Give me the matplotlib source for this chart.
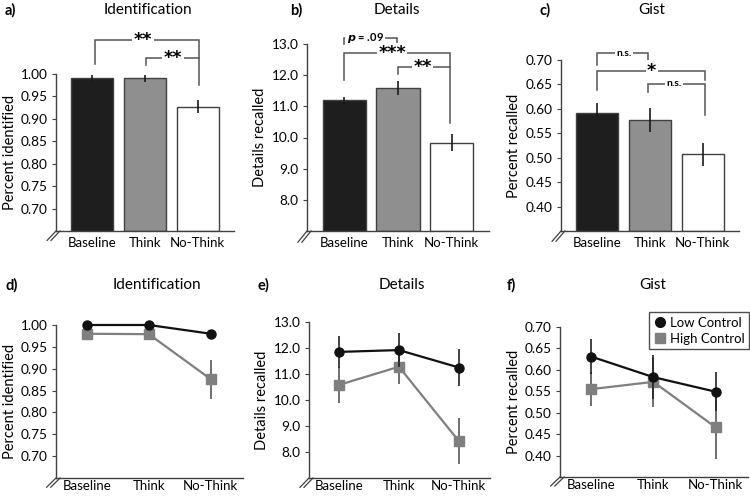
import matplotlib
matplotlib.use("Agg")
import matplotlib.pyplot as plt
from matplotlib.lines import Line2D

plt.rcParams['font.family'] = ['Lato', 'DejaVu Sans']

conditions = ["Baseline", "Think", "No-Think"]

# Top row: bar values and SEs
ident_mean = [0.990, 0.990, 0.927]
ident_err = [0.008, 0.007, 0.015]
details_mean = [11.20, 11.59, 9.83]
details_err = [0.11, 0.22, 0.27]
gist_mean = [0.592, 0.577, 0.507]
gist_err = [0.019, 0.024, 0.024]

# Bottom row: low vs high control
ident_low = [1.000, 1.000, 0.980]
ident_low_err = [0.003, 0.003, 0.008]
ident_high = [0.980, 0.979, 0.876]
ident_high_err = [0.008, 0.008, 0.045]
details_low = [11.85, 11.92, 11.25]
details_low_err = [0.62, 0.66, 0.70]
details_high = [10.58, 11.28, 8.42]
details_high_err = [0.69, 0.68, 0.89]
gist_low = [0.631, 0.583, 0.549]
gist_low_err = [0.040, 0.052, 0.045]
gist_high = [0.555, 0.572, 0.466]
gist_high_err = [0.040, 0.058, 0.075]

bar_colors = ["#1e1e1e", "#8f8f8f", "#ffffff"]
W, H = 750, 496

fig = plt.figure(figsize=(7.5, 4.96), dpi=100)


def add_axes(l, r, b, t):
    return fig.add_axes([l / W, 1 - b / H, (r - l) / W, (b - t) / H])


def style(ax, yticks, fmt, ylabel, xlim, xpad=4):
    ax.spines['top'].set_visible(False)
    ax.spines['right'].set_visible(False)
    for s in ('left', 'bottom'):
        ax.spines[s].set_color('#404040')
        ax.spines[s].set_linewidth(1.0)
    ax.set_yticks(yticks)
    ax.set_yticklabels([fmt.format(v) for v in yticks], fontsize=9.8)
    ax.set_xlim(*xlim)
    ax.set_xticks(range(3))
    ax.set_xticklabels(conditions, fontsize=9.5)
    ax.tick_params(axis='x', length=0, pad=xpad)
    ax.tick_params(axis='y', length=3, width=0.8, color='#404040', pad=3)
    ax.set_ylabel(ylabel, fontsize=10.5, labelpad=3)
    # axis break marker
    for dx in (0.0, 0.022):
        ax.plot([-0.05 + dx, 0.0 + dx], [-0.06, 0.0], transform=ax.transAxes,
                color='#404040', lw=0.9, clip_on=False)


def bracket(ax, x1, x2, y, yl1, yl2, text, tx, color='#555555', italic_p=False):
    ax.plot([x1, x1, x2, x2], [yl1, y, y, yl2], color=color, lw=1.1,
            clip_on=False, solid_joinstyle='miter')
    box = dict(facecolor='white', edgecolor='none', pad=1.0)
    if italic_p:
        ax.text(tx, y, r"$\boldsymbol{p}$ = .09", ha='center', va='center', fontsize=8,
                fontweight='bold', bbox=box, clip_on=False)
    elif '*' in text:
        ax.text(tx, y, text, ha='center', va='center', fontsize=12.5, fontweight='bold',
                family='DejaVu Sans', bbox=box, clip_on=False)
    else:
        ax.text(tx, y, text, ha='center', va='center', fontsize=7.5, fontweight='bold',
                bbox=box, clip_on=False)


def bars(ax, means, errs, ylim):
    ax.bar(range(3), [m - ylim[0] for m in means], bottom=ylim[0], width=0.8,
           color=bar_colors, edgecolor='#404040', linewidth=1.0, zorder=2)
    ax.errorbar(range(3), means, yerr=errs, fmt='none', ecolor='#1a1a1a',
                elinewidth=1.2, capsize=0, zorder=3)
    ax.set_ylim(*ylim)


bar_xlim = (-0.69, 2.69)
line_xlim = (-0.5, 2.52)

# a) Identification
ax = add_axes(56, 234, 231, 74)
bars(ax, ident_mean, ident_err, (0.65, 1.0))
style(ax, [0.70, 0.75, 0.80, 0.85, 0.90, 0.95, 1.00], "{:.2f}", "Percent identified", bar_xlim)
bracket(ax, 0.05, 2.02, 1.076, 1.022, 0.976, "**", 0.96)
bracket(ax, 1.02, 2.02, 1.036, 1.020, 1.036, "**", 1.53)

# b) Details
ax = add_axes(307, 489, 231, 44)
bars(ax, details_mean, details_err, (7.0, 13.0))
style(ax, [8.0, 9.0, 10.0, 11.0, 12.0, 13.0], "{:.1f}", "Details recalled", bar_xlim)
bracket(ax, 0.0, 0.98, 13.19, 13.0, 13.0, "p = .09", 0.39, italic_p=True)
bracket(ax, 0.0, 1.96, 12.71, 11.85, 10.47, "***", 0.89)
bracket(ax, 1.0, 1.96, 12.26, 12.04, 12.26, "**", 1.46)

# c) Gist
ax = add_axes(561, 739, 231, 60)
bars(ax, gist_mean, gist_err, (0.35, 0.70))
style(ax, [0.40, 0.45, 0.50, 0.55, 0.60, 0.65, 0.70], "{:.2f}", "Percent recalled", bar_xlim)
bracket(ax, 0.0, 0.97, 0.714, 0.690, 0.690, "n.s.", 0.50)
bracket(ax, 0.0, 2.04, 0.678, 0.639, 0.659, "*", 1.03)
bracket(ax, 0.97, 2.04, 0.651, 0.635, 0.588, "n.s.", 1.45)


def lines(ax, low, low_err, high, high_err, ylim):
    x = list(range(3))
    c1 = ax.errorbar(x, high, yerr=high_err, color='#7f7f7f', marker='s', markersize=6.5,
                     lw=1.6, elinewidth=1.2, ecolor='#555555', capsize=0, zorder=2)
    c2 = ax.errorbar(x, low, yerr=low_err, color='#111111', marker='o', markersize=6.5,
                     lw=1.6, elinewidth=1.2, ecolor='#222222', capsize=0, zorder=3)
    for c in (c1, c2):
        for art in c.get_children():
            art.set_clip_on(False)
    ax.set_ylim(*ylim)


# d)
ax = add_axes(56, 243, 478, 325)
lines(ax, ident_low, ident_low_err, ident_high, ident_high_err, (0.65, 1.0))
style(ax, [0.70, 0.75, 0.80, 0.85, 0.90, 0.95, 1.00], "{:.2f}", "Percent identified",
      line_xlim, xpad=1.5)

# e)
ax = add_axes(309, 490, 478, 322)
lines(ax, details_low, details_low_err, details_high, details_high_err, (7.0, 13.0))
style(ax, [8.0, 9.0, 10.0, 11.0, 12.0, 13.0], "{:.1f}", "Details recalled", line_xlim, xpad=1.5)

# f)
ax = add_axes(560, 748, 477, 327)
lines(ax, gist_low, gist_low_err, gist_high, gist_high_err, (0.35, 0.70))
style(ax, [0.40, 0.45, 0.50, 0.55, 0.60, 0.65, 0.70], "{:.2f}", "Percent recalled",
      line_xlim, xpad=1.5)
handles = [Line2D([], [], color='#111111', marker='o', ls='none', markersize=7),
           Line2D([], [], color='#7f7f7f', marker='s', ls='none', markersize=7)]
fig.legend(handles, ['Low Control', 'High Control'], loc='upper right',
           bbox_to_anchor=(749 / W, 1 - 312 / H), fontsize=9.5, frameon=True,
           fancybox=False, edgecolor='#222222', handletextpad=0.2, borderpad=0.35,
           labelspacing=0.3, handlelength=1.0, borderaxespad=0.0)

# Titles and panel labels
top_y = 1 - 10 / H
bot_y = 1 - 285 / H
for lab, lx, title, tx, ty in [
    ("a)", 5, "Identification", 148, top_y),
    ("b)", 290, "Details", 397, top_y),
    ("c)", 540, "Gist", 652, top_y),
    ("d)", 5, "Identification", 157, bot_y),
    ("e)", 257, "Details", 402, bot_y),
    ("f)", 507, "Gist", 653, bot_y),
]:
    fig.text(lx / W, ty, lab, fontsize=10.5, fontweight='bold', ha='left', va='center')
    fig.text(tx / W, ty, title, fontsize=11, ha='center', va='center')

fig.savefig("out.png", dpi=100)
